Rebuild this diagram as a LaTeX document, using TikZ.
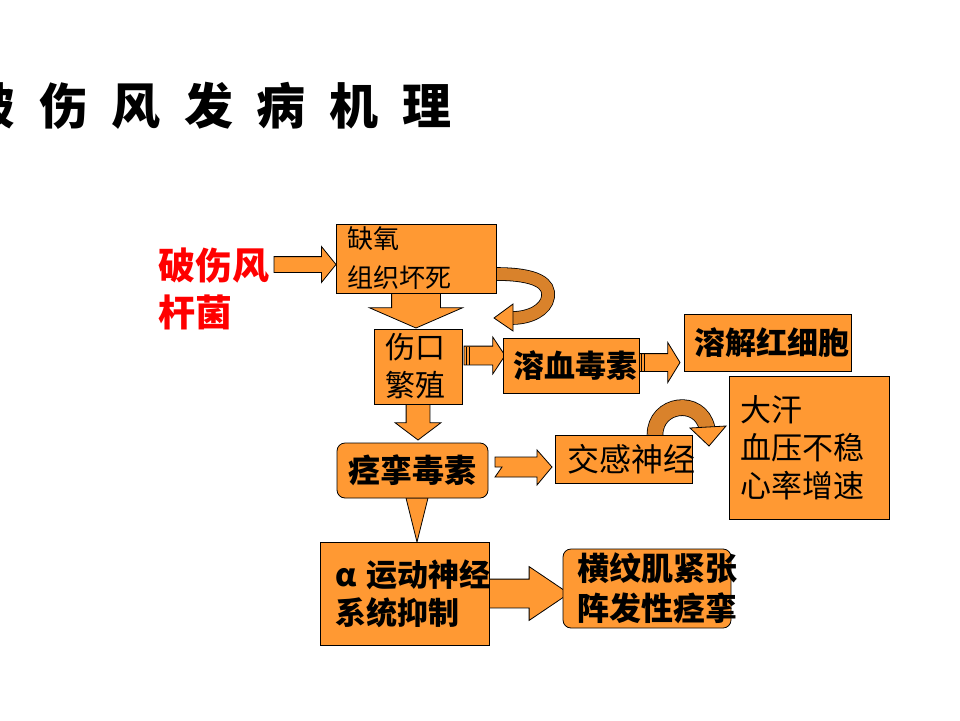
\documentclass[tikz,border=0pt]{standalone}
\usepackage{fontspec}
\setmainfont{Noto Sans CJK SC}
\usetikzlibrary{shapes,arrows,positioning,calc,backgrounds}

\definecolor{boxorange}{RGB}{255,153,51}
\colorlet{bandorange}{boxorange!85!black}
\pgfdeclarelayer{links}
\pgfsetlayers{background,links,main}

\tikzset{
  box/.style={draw, fill=boxorange, line width=0.8pt, inner sep=0pt, outer sep=0pt, align=left},
  roundbox/.style={box, rounded corners=8pt},
  fatarrow/.style={single arrow, draw, fill=boxorange, line width=0.8pt, inner xsep=0pt, outer sep=0pt},
  downarrow/.style={fatarrow, shape border rotate=270, inner ysep=0pt, inner xsep=#1},
  band/.style={line width=0.8pt, double=bandorange, double distance=#1},
}

\begin{document}
\begin{tikzpicture}[x=1pt, y=-1pt]
    \useasboundingbox (0,0) rectangle (960,720);
    \begin{pgfonlayer}{background}
        \fill[white] (0,0) rectangle (960,720);
    \end{pgfonlayer}

    % title
    \foreach \ch [count=\i] in {破,伤,风,发,病,机,理}
        \node[font=\fontsize{49pt}{49pt}\selectfont\bfseries, anchor=base, inner sep=0pt] (title\i) at ({-9+72.6*(\i-1)},124) {\ch};

    \node[font=\fontsize{37pt}{47pt}\selectfont\bfseries, text=red, align=left, anchor=west, inner sep=0pt] (germ) at (158,289) {破伤风\\杆菌};

    % boxes
    \node[box, minimum width=160pt, minimum height=69pt, text width=138pt, inner xsep=11pt, font=\fontsize{26pt}{39pt}\selectfont] (hypoxia) at (416,258.5) {缺氧\\组织坏死};
    \node[box, minimum width=88pt, minimum height=75pt, text width=66pt, inner xsep=11pt, font=\fontsize{30pt}{38pt}\selectfont] (wound) at (418,366.5) {伤口\\繁殖};
    \node[box, minimum width=136pt, minimum height=55pt, text width=116pt, inner xsep=10pt, font=\fontsize{31pt}{38pt}\selectfont\bfseries] (hemolysin) at (571,365.5) {溶血毒素};
    \node[box, minimum width=167pt, minimum height=57pt, text width=147pt, inner xsep=10pt, font=\fontsize{31pt}{38pt}\selectfont\bfseries] (lysis) at (767.5,342.5) {溶解红细胞};
    \node[box, minimum width=160pt, minimum height=143pt, text width=138pt, inner xsep=11pt, font=\fontsize{31pt}{38pt}\selectfont] (symptoms) at (809,447.5) {大汗\\血压不稳\\心率增速};
    \node[roundbox, minimum width=151pt, minimum height=55pt, text width=129pt, inner xsep=11pt, font=\fontsize{32pt}{38pt}\selectfont\bfseries] (toxin) at (412.5,470.5) {痉挛毒素};
    \node[box, minimum width=137pt, minimum height=48pt, text width=113pt, inner xsep=12pt, font=\fontsize{32pt}{38pt}\selectfont] (sympathetic) at (623.5,459) {交感神经};
    \node[box, minimum width=165pt, minimum height=103pt, text width=139pt, inner xsep=15pt, font=\fontsize{31pt}{38pt}\selectfont\bfseries] (motor) at (404.5,593.5) {α~运动神经\\系统抑制};
    \node[roundbox, minimum width=168pt, minimum height=79pt, text width=140pt, inner xsep=14pt, font=\fontsize{32pt}{40pt}\selectfont\bfseries] (spasm) at (647,588.5) {横纹肌紧张\\阵发性痉挛};

    % connectors
    \begin{pgfonlayer}{links}
        \node[fatarrow, minimum height=62pt, inner ysep=7.5pt, single arrow head extend=10pt, single arrow tip angle=102, anchor=tip] (a1) at ($(hypoxia.west)+(0,6)$) {};
        \node[downarrow=24pt, minimum height=35pt, single arrow head extend=22pt, single arrow tip angle=133, anchor=tail] (a2) at (hypoxia.south) {};
        \node[downarrow=11.5pt, minimum height=36pt, single arrow head extend=11pt, single arrow tip angle=106, anchor=tail] (a3) at (wound.south) {};
        \node[fatarrow, minimum height=41pt, inner ysep=9pt, single arrow head extend=9pt, single arrow tip angle=113, anchor=tail] (a4) at ($(wound.east)+(2,-11)$) {};
        \node[fatarrow, minimum height=41pt, inner ysep=8.5pt, single arrow head extend=11pt, single arrow tip angle=117, anchor=tail] (a5) at ($(hemolysin.east)+(0,-3)$) {};
        \node[fatarrow, minimum height=80pt, inner ysep=14pt, single arrow head extend=12.5pt, single arrow tip angle=68, anchor=tail] (a7) at (motor.east) {};
        \foreach \d in {2.5,5} {
            \draw[line width=0.6pt] ($(a4.tail)+(\d,-9)$) -- ($(a4.tail)+(\d,9)$);
            \draw[line width=0.6pt] ($(a5.tail)+(\d,-8.5)$) -- ($(a5.tail)+(\d,8.5)$);
        }

        % notched arrow
        \coordinate (notch) at ($(toxin.east)+(7,-3.5)$);
        \filldraw[fill=boxorange, line width=0.8pt] (notch) -- ++(0,-10) -- ++(42,0) -- ++(0,-7) -- ++(15,17) -- ++(-15,18) -- ++(0,-8) -- ++(-42,0) -- ++(7,-10) -- cycle;

        % triangle
        \coordinate (tri) at ($(toxin.south)+(4.5,0)$);
        \filldraw[fill=boxorange, line width=0.8pt] ($(tri)+(-11,0)$) -- ($(tri)+(11,0)$) -- (tri |- motor.north) -- cycle;

        % curved arrows
        \draw[band=12pt] ($(hypoxia.south east)+(0,-19)$) .. controls (538,274) and (550,284) .. (548,297) .. controls (546,310) and (530,318) .. (512,318);
        \filldraw[fill=boxorange, line width=0.8pt] (513,304) -- (494,318) -- (513,331) -- cycle;
        \draw[band=15pt] ($(sympathetic.north east)+(-37,0)$) .. controls (655,403) and (700,397) .. (707,428);
        \filldraw[fill=boxorange, line width=0.8pt] (690,428) -- (709,446) -- (726,426) -- cycle;
    \end{pgfonlayer}
\end{tikzpicture}
\end{document}
